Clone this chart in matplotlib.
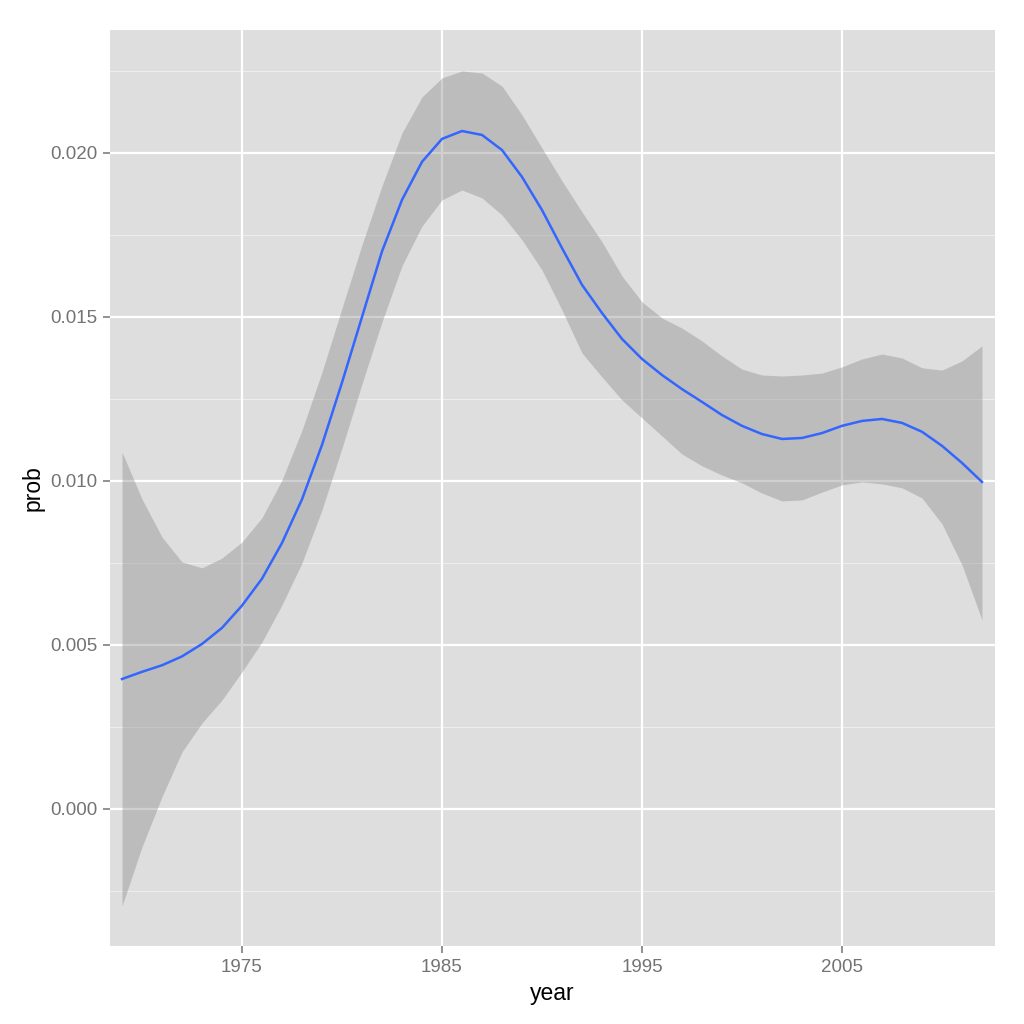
import numpy as np
import matplotlib.pyplot as plt

plt.rcParams['font.family'] = ['Liberation Sans', 'DejaVu Sans']

# smoothed fit
year = np.arange(1969, 2013)
prob = [0.00396, 0.00418, 0.00438, 0.00465, 0.00503, 0.00552, 0.00620, 0.00702,
        0.00811, 0.00944, 0.01110, 0.01300, 0.01500, 0.01700, 0.01857, 0.01973,
        0.02043, 0.02067, 0.02055, 0.02009, 0.01927, 0.01826, 0.01710, 0.01598,
        0.01512, 0.01433, 0.01372, 0.01323, 0.01280, 0.01241, 0.01201, 0.01168,
        0.01143, 0.01128, 0.01131, 0.01146, 0.01168, 0.01183, 0.01189, 0.01177,
        0.01150, 0.01107, 0.01055, 0.00997]
upper = [0.01088, 0.00945, 0.00829, 0.00753, 0.00735, 0.00765, 0.00814, 0.00888,
         0.01003, 0.01155, 0.01332, 0.01527, 0.01720, 0.01900, 0.02061, 0.02171,
         0.02229, 0.02250, 0.02244, 0.02204, 0.02116, 0.02015, 0.01915, 0.01820,
         0.01729, 0.01625, 0.01546, 0.01497, 0.01466, 0.01427, 0.01381, 0.01341,
         0.01323, 0.01320, 0.01323, 0.01329, 0.01348, 0.01372, 0.01387, 0.01375,
         0.01345, 0.01338, 0.01366, 0.01412]
lower = [-0.00296, -0.00116, 0.00037, 0.00174, 0.00262, 0.00332, 0.00418, 0.00509,
         0.00622, 0.00750, 0.00912, 0.01100, 0.01296, 0.01485, 0.01656, 0.01777,
         0.01857, 0.01887, 0.01863, 0.01811, 0.01735, 0.01643, 0.01521, 0.01390,
         0.01317, 0.01247, 0.01192, 0.01137, 0.01082, 0.01046, 0.01018, 0.00994,
         0.00963, 0.00939, 0.00942, 0.00966, 0.00988, 0.00997, 0.00991, 0.00979,
         0.00948, 0.00869, 0.00744, 0.00576]

x_ticks = [1975, 1985, 1995, 2005]
y_ticks = [0.000, 0.005, 0.010, 0.015, 0.020]

fig = plt.figure(figsize=(10.24, 10.24), dpi=100)
ax = fig.add_axes([110/1024, 1 - 946/1024, 885/1024, 916/1024])
ax.set_facecolor('#DEDEDE')

ax.set_xlim(1968.4, 2012.65)
ax.set_ylim(-0.00418, 0.02375)

# minor horizontal grid
for v in np.arange(-0.0025, 0.0240, 0.005):
    ax.axhline(v, color='#EDEDED', lw=0.8, zorder=1)
for v in y_ticks:
    ax.axhline(v, color='white', lw=1.6, zorder=1)
for v in x_ticks:
    ax.axvline(v, color='white', lw=1.6, zorder=1)

ax.fill_between(year, lower, upper, color='#8B8B8B', alpha=0.4, lw=0, zorder=2)
ax.plot(year, prob, color='#3366FF', lw=1.8, zorder=3)

ax.set_xticks(x_ticks)
ax.set_xticklabels([str(v) for v in x_ticks])
ax.set_yticks(y_ticks)
ax.set_yticklabels(['%.3f' % v for v in y_ticks])
ax.tick_params(axis='both', colors='#7F7F7F', labelsize=13.5, length=5, width=1.2,
               labelcolor='#737373', pad=4)
for s in ax.spines.values():
    s.set_visible(False)

ax.set_xlabel('year', fontsize=16.5, labelpad=5)
ax.set_ylabel('prob', fontsize=16.5, labelpad=4)

fig.savefig('out.png', dpi=100)
